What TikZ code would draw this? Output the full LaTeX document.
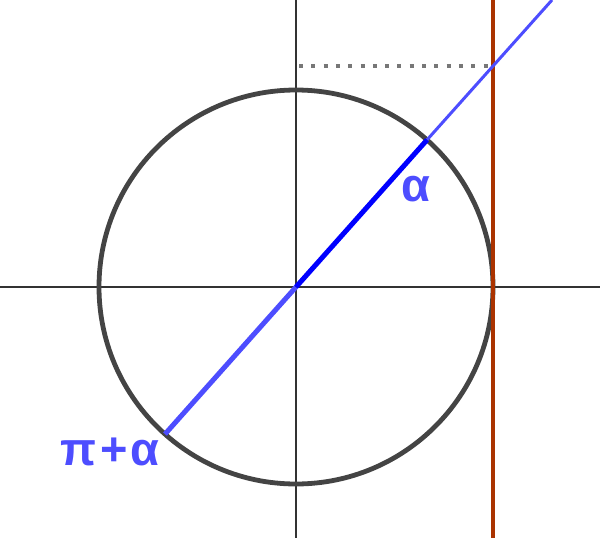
\documentclass[tikz,border=0pt]{standalone}
\usepackage{fontspec}
\setmainfont{Liberation Sans}
\definecolor{axisgray}{HTML}{333333}
\definecolor{circgray}{HTML}{444444}
\definecolor{dotgray}{HTML}{777777}
\definecolor{tanred}{HTML}{AA3300}
\definecolor{lblue}{HTML}{4D4DFF}
\definecolor{dblue}{HTML}{0000FF}
\tikzset{
  axis/.style={draw=axisgray, line width=1.2pt},
  unitcircle/.style={draw=circgray, line width=4.8pt},
  tanline/.style={draw=tanred, line width=3.4pt},
  guide/.style={draw=dotgray, line width=3.8pt, dash pattern=on 4pt off 8.3pt},
  ray/.style={draw=lblue, line width=3pt},
  diam/.style={draw=lblue, line width=5pt},
  radius/.style={draw=dblue, line width=5pt},
  lbl/.style={text=lblue, draw=none, font=\bfseries\fontsize{47}{47}\selectfont, inner sep=0pt}
}
\begin{document}
\begin{tikzpicture}[x=1pt,y=-1pt]
\useasboundingbox (0,0) rectangle (600,538);
\clip (0,0) rectangle (600,538);
\coordinate (O) at (296,287);
\coordinate (xl) at (0,287);
\coordinate (xr) at (600,287);
\coordinate (yt) at (296,0);
\coordinate (yb) at (296,538);
\coordinate (rt) at (493,0);
\coordinate (rb) at (493,538);
\coordinate (P) at (427.0,139.9);
\coordinate (Q) at (165.0,434.1);
\coordinate (T) at (493,65.9);
\coordinate (E) at (552,0);
\coordinate (G) at (299,65.9);
\draw[axis] (xl) -- (xr);
\draw[axis] (yt) -- (yb);
\draw[unitcircle] (O) circle (197);
\draw[guide] (G) -- (T);
\draw[tanline] (rt) -- (rb);
\draw[ray] (P) -- (E);
\draw[diam] (Q) -- (O);
\draw[radius] (O) -- (P);
\node[lbl] (a) at (416,189) {α};
\node[lbl] (pa) at (110,452) {π\kern4pt+\kern3ptα};
\end{tikzpicture}
\end{document}
